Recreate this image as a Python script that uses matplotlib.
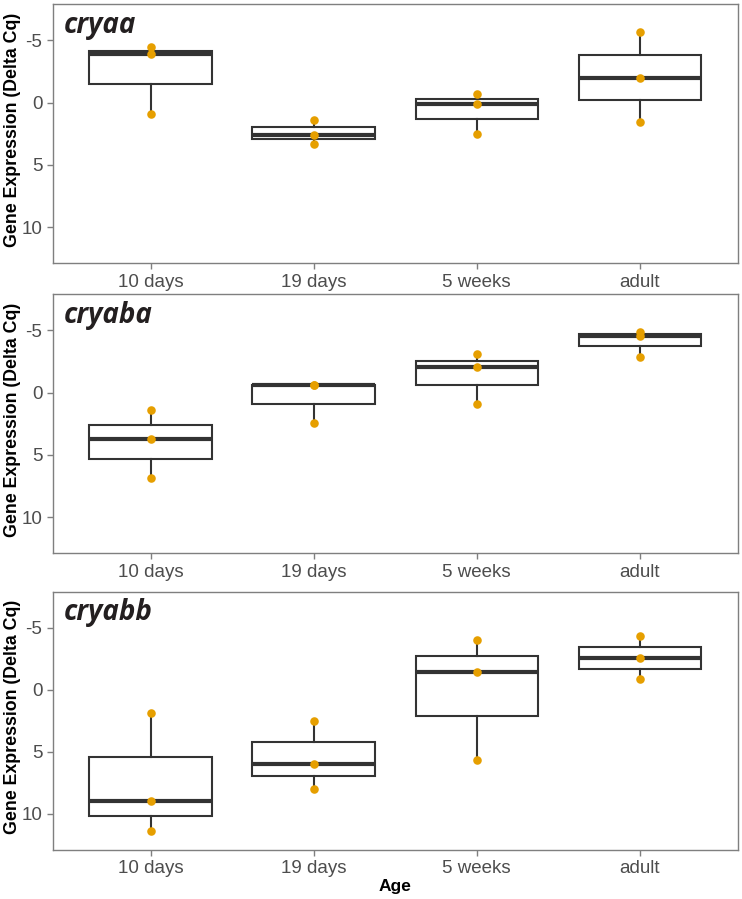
import numpy as np
import matplotlib.pyplot as plt

# Dados (Delta Cq, três réplicas por idade)
ages = ['10 days', '19 days', '5 weeks', 'adult']
genes = ['cryaa', 'cryaba', 'cryabb']

cryaa = [[-4.45, -3.92, 0.88],
         [1.42, 2.56, 3.34],
         [-0.72, 0.14, 2.48],
         [-5.70, -1.97, 1.58]]
cryaba = [[1.36, 3.76, 6.88],
          [-0.65, -0.58, 2.40],
          [-3.10, -2.06, 0.90],
          [-4.86, -4.56, -2.86]]
cryabb = [[1.84, 8.94, 11.39],
          [2.51, 5.95, 8.00],
          [-4.00, -1.46, 5.68],
          [-4.32, -2.53, -0.85]]

dados = [cryaa, cryaba, cryabb]
yticks = [-5, 0, 5, 10]

plt.rcParams['font.family'] = ['Liberation Sans', 'DejaVu Sans']
plt.rcParams['axes.unicode_minus'] = False

W, H = 742, 899
fig = plt.figure(figsize=(W / 100, H / 100), dpi=100)

# posição dos painéis em pixels (topo, base)
paineis = [(4.3, 263.3), (294.3, 553.3), (591.7, 850.0)]
esq, dir_ = 52.7, 737.7

for gene, valores, (topo, base) in zip(genes, dados, paineis):
    ax = fig.add_axes([esq / W, 1 - base / H, (dir_ - esq) / W, (base - topo) / H])
    pos = np.arange(1, len(ages) + 1)
    ax.boxplot(valores, positions=pos, widths=0.75, whis=(0, 100),
               showfliers=False, patch_artist=True,
               boxprops=dict(facecolor='white', edgecolor='#333333', linewidth=1.5),
               whiskerprops=dict(color='#333333', linewidth=1.5),
               capprops=dict(linewidth=0),
               medianprops=dict(color='#333333', linewidth=3.0))
    for p, v in zip(pos, valores):
        ax.scatter([p] * len(v), v, s=38, color='#E69F00', zorder=5, linewidths=0)
    ax.set_xlim(0.4, 4.6)
    ax.set_ylim(12.9, -7.9)
    ax.set_yticks(yticks)
    ax.set_xticks(pos)
    ax.set_xticklabels(ages)
    ax.tick_params(axis='both', colors='#7F7F7F', labelcolor='#4D4D4D',
                   labelsize=13.5, length=4, width=1)
    for s in ax.spines.values():
        s.set_color('#7F7F7F')
        s.set_linewidth(1.0)
    ax.set_ylabel('Gene Expression (Delta Cq)', fontsize=12.8, fontweight='bold',
                  color='black')
    ax.yaxis.set_label_coords((21 - esq) / (dir_ - esq), 0.515)
    ax.text(0.016, 0.975, gene, transform=ax.transAxes, ha='left', va='top',
            fontsize=20, fontweight='bold', style='italic', color='#231F20',
            family=['Open Sans', 'DejaVu Sans'])

fig.text(395 / W, 1 - 886 / H, 'Age', ha='center', va='center',
         fontsize=12.5, fontweight='bold', color='black')

plt.savefig('out.png', dpi=100)
